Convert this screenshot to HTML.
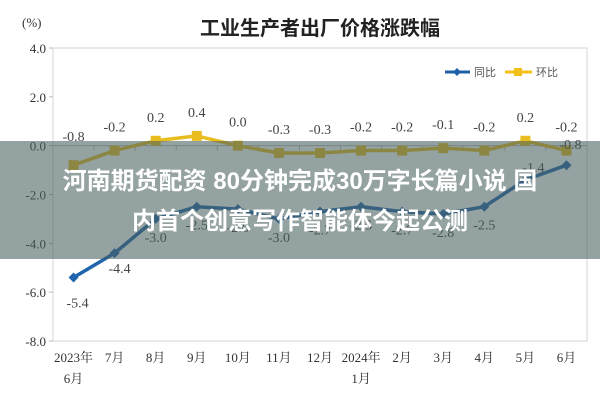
<!DOCTYPE html>
<html><head><meta charset="utf-8"><style>
html,body{margin:0;padding:0;background:#fff;width:600px;height:400px;overflow:hidden}
svg{display:block}
.lbl{font-family:"Liberation Serif","Noto Serif CJK SC",serif;font-size:14px;fill:#444}
.ax{font-family:"Liberation Serif","Noto Serif CJK SC",serif;font-size:13px;fill:#333}
#band{position:absolute;left:0;top:141px;width:600px;height:118px;background:rgba(72,95,95,0.58)}
#band div{color:#fff;font-family:"Liberation Sans","Noto Sans CJK SC",sans-serif;font-weight:bold;font-size:24px;text-align:center;line-height:40px;white-space:nowrap}
</style></head><body>
<svg id="chart" width="600" height="400">
<text x="22" y="27" class="ax">(%)</text>
<text x="320" y="35" text-anchor="middle" font-family="Liberation Sans,Noto Sans CJK SC,sans-serif" font-size="20" font-weight="bold" fill="#222">工业生产者出厂价格涨跌幅</text>
<rect x="53" y="48" width="534" height="293" fill="none" stroke="#d4d4d4"/>
<g id="yaxis"></g><g id="xaxis"></g><g id="series"></g>
<g>
<line x1="445" y1="72" x2="470" y2="72" stroke="#1f5fa8" stroke-width="3"/><path d="M457 68l4 4-4 4-4-4z" fill="#1f5fa8"/>
<text x="474" y="76" font-family="Liberation Sans,Noto Sans CJK SC,sans-serif" font-size="11" fill="#555">同比</text>
<line x1="505" y1="72" x2="532" y2="72" stroke="#f2c019" stroke-width="3"/><rect x="514" y="68" width="8" height="8" fill="#f2c019"/>
<text x="536" y="76" font-family="Liberation Sans,Noto Sans CJK SC,sans-serif" font-size="11" fill="#555">环比</text>
</g>
</svg>
<div id="band">
<div style="margin-top:21px">河南期货配资 80分钟完成30万字长篇小说 国</div>
<div>内首个创意写作智能体今起公测</div>
</div>
<script>
const categories=["2023年|6月","7月","8月","9月","10月","11月","12月","2024年|1月","2月","3月","4月","5月","6月"];
const yoy=[-5.4,-4.4,-3.0,-2.5,-2.6,-3.0,-2.7,-2.5,-2.7,-2.8,-2.5,-1.4,-0.8];
const mom=[-0.8,-0.2,0.2,0.4,0.0,-0.3,-0.3,-0.2,-0.2,-0.1,-0.2,0.2,-0.2];
const yTicks=[4,2,0,-2,-4,-6,-8];
const NS="http://www.w3.org/2000/svg";
const L=53,R=587,T=48,B=341,ymax=4,ymin=-8;
const x=i=>L+(R-L)/categories.length*(i+0.5);
const y=v=>T+(ymax-v)/(ymax-ymin)*(B-T);
function mk(t,a,p){const e=document.createElementNS(NS,t);for(const k in a)e.setAttribute(k,a[k]);p.appendChild(e);return e;}
const ya=document.getElementById('yaxis'),xa=document.getElementById('xaxis'),se=document.getElementById('series');
yTicks.forEach(v=>{
 const t=mk('text',{x:46,y:y(v)+5,'text-anchor':'end',class:'ax'},ya);t.textContent=v.toFixed(1);
 
 
 const l=mk('line',{x1:L-4,x2:L,y1:y(v),y2:y(v),stroke:'#bbb'},ya);
 
 
});
const zl=mk('line',{x1:L,x2:R,y1:y(0),y2:y(0),stroke:'#bbb'},ya);


categories.forEach((c,i)=>{
 const parts=c.split('|');
 parts.forEach((p,j)=>{const t=mk('text',{x:x(i),y:362+j*21,'text-anchor':'middle',class:'ax'},xa);t.textContent=p;
 
 });
 if(i>0){const tk=mk('line',{x1:L+(R-L)/categories.length*i,x2:L+(R-L)/categories.length*i,y1:y(0),y2:y(0)+5,stroke:'#bbb'},xa);
 
 }
});
function series(vals,color,name,marker,labelOff){
 const pl=mk('polyline',{points:vals.map((v,i)=>x(i)+','+y(v)).join(' '),fill:'none',stroke:color,'stroke-width':3.5,'stroke-linejoin':'round'},se);
 
 
 vals.forEach((v,i)=>{
  let m;
  if(marker==='d'){m=mk('path',{d:`M${x(i)} ${y(v)-5}l5 5-5 5-5-5z`,fill:color},se);}
  else{m=mk('rect',{x:x(i)-5,y:y(v)-5,width:10,height:10,fill:color},se);}
  
  
  const t=mk('text',{x:x(i)+(labelOff(i)[0]),y:y(v)+labelOff(i)[1],'text-anchor':'middle',class:'lbl'},se);
  t.textContent=v.toFixed(1);
  
  
 });
}
series(mom,'#e9bd1e','mom','s',i=>i===0?[0,-24]:[0,-19]);
series(yoy,'#1f64ad','yoy','d',i=>i===0?[4,30]:i===1?[5,20]:i===11?[8,-8]:i===12?[4,-16]:[0,23]);
</script>
</body></html>
